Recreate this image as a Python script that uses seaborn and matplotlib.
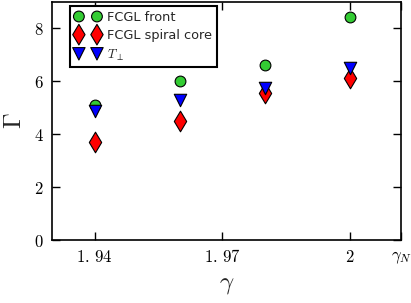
import pandas as pd
import numpy as np
import seaborn as sns
import matplotlib.pyplot as plt

gamma = [1.94, 1.96, 1.98, 2.00]
front = [5.1, 6.0, 6.6, 8.4]
spiral = [3.7, 4.5, 5.55, 6.1]
tperp = [4.85, 5.3, 5.75, 6.5]
xtick_vals = [1.94, 1.97, 2.0, 2.012]
xtick_labels = [r'$1.\,94$', r'$1.\,97$', '$2$', r'$\gamma_N$']
ytick_vals = [0, 2, 4, 6, 8]

sns.set_style('ticks')
plt.rcParams['mathtext.fontset'] = 'cm'
plt.rcParams['font.family'] = ['DejaVu Sans']

fig, ax = plt.subplots(figsize=(4.11, 3.03), dpi=100)

series = [('FCGL front', front, 'o', '#33cc33', 60),
          ('FCGL spiral core', spiral, 'd', '#ff0000', 110),
          (r'$T_\perp$', tperp, 'v', '#0000ff', 80)]
for name, vals, mk, col, sz in series:
    df = pd.DataFrame({'gamma': gamma, 'Gamma': vals})
    sns.scatterplot(x='gamma', y='Gamma', data=df, marker=mk, color=col, s=sz,
                    edgecolor='k', linewidth=0.8, label=name, ax=ax, zorder=3)

ax.set_xlim(1.93, 2.012)
ax.set_ylim(0, 9)
ax.set_xticks(xtick_vals)
ax.set_xticklabels(xtick_labels)
ax.set_yticks(ytick_vals)
ax.set_yticklabels(['$%d$' % v for v in ytick_vals])
ax.tick_params(direction='in', length=6, width=1, top=True, right=True,
               labelsize=12, pad=6, colors='k')
for sp in ax.spines.values():
    sp.set_linewidth(1.2)
    sp.set_color('k')
ax.set_xlabel(r'$\gamma$', fontsize=18, labelpad=4)
ax.set_ylabel(r'$\Gamma$', fontsize=18, labelpad=6)

leg = ax.legend(loc='upper left', bbox_to_anchor=(0.045, 0.99), scatterpoints=2,
                scatteryoffsets=[0.5], fontsize=9.3, frameon=True, fancybox=False,
                borderpad=0.35, handlelength=2.0, handletextpad=0.5,
                labelspacing=0.4, borderaxespad=0.2)
leg.get_frame().set_edgecolor('k')
leg.get_frame().set_linewidth(1.5)
leg.get_frame().set_alpha(1)

fig.subplots_adjust(left=0.127, right=0.976, top=0.995, bottom=0.208)
fig.savefig('out.png', dpi=100)
